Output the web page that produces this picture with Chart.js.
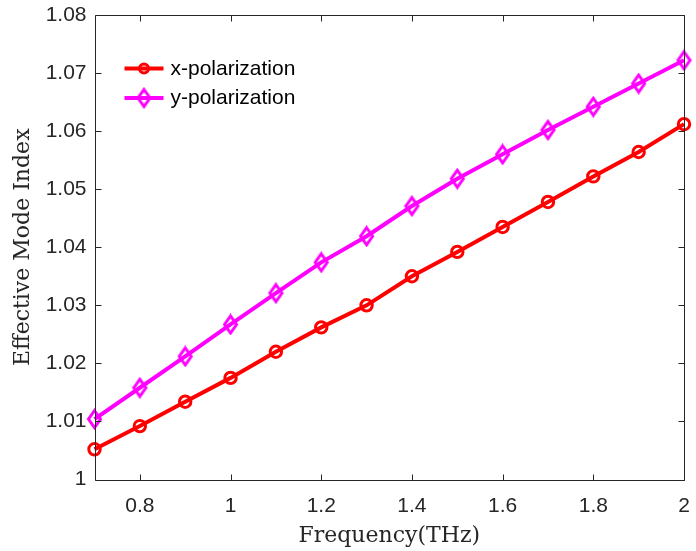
<!DOCTYPE html>
<html>
<head>
<meta charset="utf-8">
<script src="https://cdn.jsdelivr.net/npm/chart.js@4/dist/chart.umd.min.js"></script>
<style>
html,body{margin:0;padding:0;background:#fff;}
#wrap{width:696px;height:551px;}
</style>
</head>
<body>
<div id="wrap"><canvas id="c" width="696" height="551"></canvas></div>
<script>
const frequency = [0.7, 0.8, 0.9, 1.0, 1.1, 1.2, 1.3, 1.4, 1.5, 1.6, 1.7, 1.8, 1.9, 2.0];
const xPolarization = [1.0052, 1.0092, 1.0134, 1.0175, 1.0220, 1.0262, 1.0300, 1.0350, 1.0392, 1.0435, 1.0478, 1.0522, 1.0564, 1.0612];
const yPolarization = [1.0104, 1.0158, 1.0212, 1.0267, 1.0321, 1.0374, 1.0419, 1.0471, 1.0518, 1.0560, 1.0602, 1.0642, 1.0682, 1.0722];
const xTickValues = [0.8, 1.0, 1.2, 1.4, 1.6, 1.8, 2.0];
const yTickValues = [1.00, 1.01, 1.02, 1.03, 1.04, 1.05, 1.06, 1.07, 1.08];
const seriesLabels = ['x-polarization', 'y-polarization'];
const axisTitles = {x: 'Frequency(THz)', y: 'Effective Mode Index'};

const AX = '#262626';
const SANS = '"Liberation Sans", Arial, sans-serif';
const SERIF = '"DejaVu Serif", serif';

function diamond(color, hw, hh, lw) {
  const c = document.createElement('canvas');
  const w = Math.ceil(2 * hw + lw + 2), h = Math.ceil(2 * hh + lw + 2);
  c.width = w; c.height = h;
  const g = c.getContext('2d');
  g.strokeStyle = color; g.lineWidth = lw; g.lineJoin = 'miter';
  g.beginPath();
  g.moveTo(w / 2, h / 2 - hh);
  g.lineTo(w / 2 + hw, h / 2);
  g.lineTo(w / 2, h / 2 + hh);
  g.lineTo(w / 2 - hw, h / 2);
  g.closePath();
  g.stroke();
  return c;
}
const diamondMarker = diamond('#ff00ff', 6, 8.5, 3);

function toPts(xs, ys) { return xs.map((x, i) => ({x: x, y: ys[i]})); }

const boxPlugin = {
  id: 'boxTicks',
  afterDatasetsDraw(chart) {
    const {ctx, chartArea: a, scales} = chart;
    ctx.save();
    ctx.strokeStyle = AX; ctx.lineWidth = 1;
    const L = Math.round(a.left) + 0.5, R = Math.round(a.right) + 0.5;
    const T = Math.round(a.top) + 0.5, B = Math.round(a.bottom) + 0.5;
    ctx.beginPath();
    ctx.rect(L, T, R - L, B - T);
    const tl = 6;
    scales.x.ticks.forEach(t => {
      const px = Math.round(scales.x.getPixelForValue(t.value)) + 0.5;
      ctx.moveTo(px, B); ctx.lineTo(px, B - tl);
      ctx.moveTo(px, T); ctx.lineTo(px, T + tl);
    });
    scales.y.ticks.forEach(t => {
      const py = Math.round(scales.y.getPixelForValue(t.value)) + 0.5;
      ctx.moveTo(L, py); ctx.lineTo(L + tl, py);
      ctx.moveTo(R, py); ctx.lineTo(R - tl, py);
    });
    ctx.stroke();
    ctx.restore();
  },
  afterDraw(chart) {
    const {ctx, chartArea: a} = chart;
    ctx.save();
    const x0 = a.left + 30, x1 = a.left + 69, xm = (x0 + x1) / 2;
    const rows = [a.top + 53.5, a.top + 83];
    chart.data.datasets.forEach((ds, i) => {
      const y = rows[i];
      ctx.strokeStyle = ds.borderColor; ctx.lineWidth = 4;
      ctx.beginPath(); ctx.moveTo(x0, y); ctx.lineTo(x1, y); ctx.stroke();
      if (ds.pointStyle === 'circle') {
        ctx.lineWidth = 3;
        ctx.beginPath(); ctx.arc(xm, y, 4.5, 0, Math.PI * 2); ctx.stroke();
      } else {
        ctx.drawImage(ds.pointStyle, xm - ds.pointStyle.width / 2, y - ds.pointStyle.height / 2);
      }
      ctx.fillStyle = '#000';
      ctx.font = '21px ' + SANS;
      ctx.textBaseline = 'middle';
      ctx.textAlign = 'left';
      ctx.fillText(ds.label, x1 + 7, y + 0.5);
    });
    ctx.restore();
  }
};

new Chart(document.getElementById('c'), {
  type: 'line',
  data: {
    datasets: [
      {
        label: seriesLabels[0],
        data: toPts(frequency, xPolarization),
        borderColor: '#ff0000',
        backgroundColor: 'rgba(0,0,0,0)',
        borderWidth: 4,
        pointStyle: 'circle',
        pointRadius: 5.7,
        pointBorderWidth: 3,
        pointBorderColor: '#ff0000',
        pointBackgroundColor: 'rgba(0,0,0,0)',
        tension: 0,
        clip: false
      },
      {
        label: seriesLabels[1],
        data: toPts(frequency, yPolarization),
        borderColor: '#ff00ff',
        backgroundColor: 'rgba(0,0,0,0)',
        borderWidth: 4,
        pointStyle: diamondMarker,
        pointRadius: 8,
        tension: 0,
        clip: false
      }
    ]
  },
  options: {
    responsive: false,
    animation: false,
    devicePixelRatio: 1,
    layout: {padding: {top: 15, right: 7.5, left: 0, bottom: 0}},
    plugins: {legend: {display: false}, tooltip: {enabled: false}},
    elements: {point: {hoverRadius: 0}},
    scales: {
      x: {
        type: 'linear',
        min: 0.7, max: 2.0,
        afterBuildTicks(s) { s.ticks = xTickValues.map(v => ({value: v})); },
        afterFit(s) { s.height = 71.5; s.paddingLeft = 0; s.paddingRight = 0; },
        grid: {display: false, drawTicks: false},
        border: {display: false},
        ticks: {
          color: AX, padding: 14,
          font: {family: SANS, size: 21},
          callback: v => String(Number(v.toFixed(2)))
        },
        title: {
          display: true, text: axisTitles.x, color: AX,
          font: {family: SERIF, size: 22},
          padding: {top: 0, bottom: 2}
        }
      },
      y: {
        type: 'linear',
        min: 1.0, max: 1.08,
        afterBuildTicks(s) { s.ticks = yTickValues.map(v => ({value: v})); },
        afterFit(s) { s.width = 94.5; s.paddingTop = 0; s.paddingBottom = 0; },
        grid: {display: false, drawTicks: false},
        border: {display: false},
        ticks: {
          color: AX, padding: 8,
          font: {family: SANS, size: 21},
          callback: v => String(Number(v.toFixed(2)))
        },
        title: {
          display: true, text: axisTitles.y, color: AX,
          font: {family: SERIF, size: 22},
          padding: {top: 10, bottom: 0}
        }
      }
    }
  },
  plugins: [boxPlugin]
});
</script>
</body>
</html>
